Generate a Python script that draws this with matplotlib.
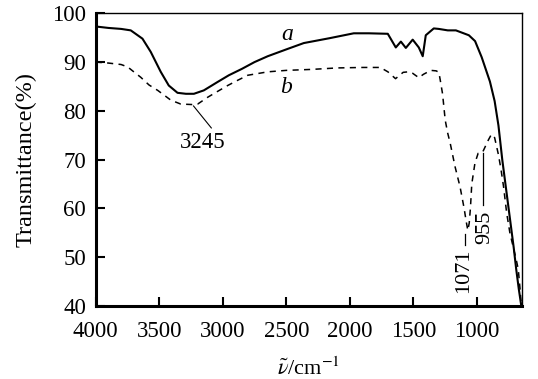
import matplotlib
matplotlib.use("Agg")
import matplotlib.pyplot as plt

plt.rcParams['font.family'] = ['Liberation Serif', 'DejaVu Serif']
plt.rcParams['mathtext.fontset'] = 'stix'

# curve a (solid)
wn_a = [4000, 3900, 3800, 3724, 3632, 3567, 3488, 3425, 3356, 3290, 3227, 3149, 3042,
        2952, 2850, 2750, 2646, 2500, 2362, 2159, 1969, 1850, 1701, 1638, 1598, 1559,
        1505, 1457, 1426, 1402, 1339, 1300, 1229, 1165, 1063, 1014, 962, 897, 860, 830,
        800, 770, 740, 710, 690, 670, 650]
tr_a = [97.3, 97.0, 96.8, 96.5, 94.8, 92.1, 88.0, 85.2, 83.7, 83.5, 83.5, 84.2, 85.9,
        87.3, 88.6, 90.0, 91.2, 92.6, 93.9, 94.9, 95.9, 95.9, 95.8, 93.0, 94.2, 92.9,
        94.6, 93.0, 91.2, 95.5, 96.9, 96.8, 96.5, 96.5, 95.5, 94.3, 91.0, 86.0, 82.0, 77.0,
        70.0, 64.0, 58.0, 52.0, 47.5, 43.5, 40.0]

# curve b (dashed)
wn_b = [4000, 3900, 3800, 3748, 3700, 3646, 3580, 3512, 3450, 3409, 3331, 3245, 3197,
        3118, 3040, 2961, 2880, 2803, 2646, 2500, 2300, 2100, 1900, 1760, 1700, 1640,
        1580, 1540, 1505, 1457, 1420, 1362, 1320, 1299, 1288, 1270, 1249, 1230, 1210,
        1171, 1132, 1100, 1085, 1071, 1060, 1050, 1040, 1015, 990, 955, 910, 885, 860,
        830, 810, 790, 765, 740, 713, 690, 674, 660, 650]
tr_b = [90.0, 89.8, 89.5, 89.0, 88.0, 86.9, 85.3, 84.2, 83.0, 82.2, 81.4, 81.3, 81.4,
        82.8, 84.0, 85.2, 86.3, 87.3, 88.0, 88.3, 88.5, 88.8, 88.9, 88.9, 88.0, 86.6,
        87.9, 88.0, 87.7, 86.8, 87.5, 88.3, 88.2, 87.9, 86.3, 83.5, 78.1, 75.5, 73.4,
        68.5, 64.4, 60.0, 57.5, 55.5, 57.0, 60.3, 65.0, 69.3, 71.3, 71.5, 74.0, 75.2, 74.5,
        71.0, 68.0, 64.5, 59.0, 55.0, 52.0, 49.5, 47.5, 43.5, 40.0]

x_ticks = [3500, 3000, 2500, 2000, 1500, 1000]
x_ticklabels = ['4000', '3500', '3000', '2500', '2000', '1500', '1000']
y_ticks = [40, 50, 60, 70, 80, 90, 100]

fig = plt.figure(figsize=(5.38, 3.79), dpi=100)
ax = fig.add_axes([95.7/538, 1-306/379, (521.7-95.7)/538, (306-13.3)/379])

ax.plot(wn_a, tr_a, color='black', lw=1.5, solid_joinstyle='round')
ax.plot(wn_b, tr_b, color='black', lw=1.1, dashes=(4, 3.5))

ax.set_xlim(4000, 647)
ax.set_ylim(40, 100)

ax.set_xticks([4000] + x_ticks)
ax.set_xticklabels(x_ticklabels)
ax.set_yticks(y_ticks)

for s in ['left', 'bottom']:
    ax.spines[s].set_linewidth(2.2)
for s in ['top', 'right']:
    ax.spines[s].set_linewidth(1.0)

ax.tick_params(axis='both', direction='in', length=6.5, width=1.5, labelsize=16.5)
ax.tick_params(axis='x', pad=11)
ax.tick_params(axis='y', pad=7)

ax.set_ylabel('Transmittance(%)', fontsize=17.5, labelpad=11)
ax.set_xlabel(r'$\tilde{\nu}$/cm$^{-1}$', fontsize=16, labelpad=11)

# annotations
ax.text(2493, 95.6, 'a', fontsize=17, style='italic', ha='center', va='center')
ax.text(2501, 84.7, 'b', fontsize=17, style='italic', ha='center', va='center')

ax.plot([3230, 3090], [81.0, 76.5], color='black', lw=0.8)
ax.text(3159, 73.6, '3245', fontsize=16.5, ha='center', va='center')

ax.plot([949, 949], [71.4, 60.7], color='black', lw=0.9)
ax.text(934, 56.1, '955', fontsize=16, rotation=90, ha='center', va='center')

ax.plot([1090, 1090], [52.6, 54.8], color='black', lw=0.9)
ax.text(1103, 47.3, '1071', fontsize=16, rotation=90, ha='center', va='center')

fig.savefig('out.png', dpi=100)
